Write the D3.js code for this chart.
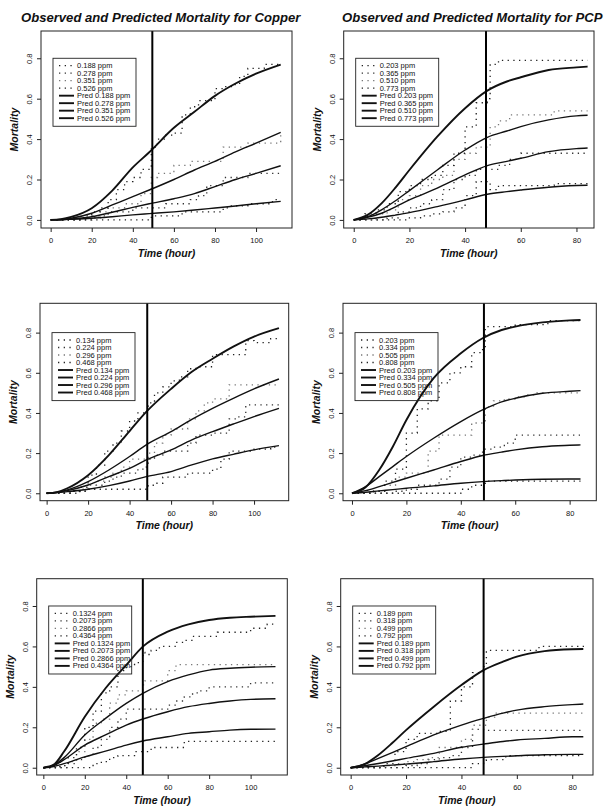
<!DOCTYPE html>
<html>
<head>
<meta charset="utf-8">
<script src="https://cdn.jsdelivr.net/npm/d3@7"></script>
<style>
body { margin: 0; background: #fff; }
svg { display: block; }
text { font-family: "Liberation Sans", Arial, sans-serif; fill: #111; }
</style>
</head>
<body>
<svg id="chart" width="606" height="809"></svg>
<script>
// time grids (hours)
var obsTimeL = [0,4,8,12,16,20,24,28,32,36,40,44,48,49,52,56,60,64,68,72,76,80,84,88,92,96,100,104,108,112]
var obsTimeR = [0,4,8,12,16,20,24,28,32,36,40,44,48,49,52,56,60,64,68,72,76,80,84]
var predTimeL = [0,5,10,20,30,40,48,60,70,80,90,100,112]
var predTimeR = [0,5,10,15,20,30,40,48,55,60,70,80,84]

var titles = ["Observed and Predicted Mortality for Copper", "Observed and Predicted Mortality for PCP"]
var xTicksL = [0,20,40,60,80,100]
var xTicksR = [0,20,40,60,80]
var yTicks = [0,0.2,0.4,0.6,0.8]

// copper, run 1
var cu1Conc = ["0.188","0.278","0.351","0.526"]
var cu1Obs = [
  [0,0,0,0,0,0,0,0,0,0,0,0,0,0.02,0.02,0.02,0.02,0.04,0.04,0.04,0.04,0.04,0.06,0.07,0.07,0.08,0.08,0.08,0.1,0.1],
  [0,0,0,0,0,0.01,0.02,0.04,0.04,0.04,0.06,0.06,0.06,0.06,0.06,0.08,0.08,0.08,0.1,0.12,0.17,0.17,0.21,0.21,0.21,0.23,0.23,0.23,0.23,0.23],
  [0,0,0,0,0.01,0.02,0.04,0.06,0.06,0.08,0.08,0.13,0.13,0.21,0.23,0.23,0.27,0.27,0.29,0.29,0.29,0.29,0.36,0.36,0.36,0.38,0.38,0.38,0.38,0.43],
  [0,0,0,0,0.02,0.04,0.06,0.1,0.15,0.19,0.21,0.25,0.25,0.36,0.4,0.42,0.43,0.52,0.56,0.59,0.59,0.65,0.66,0.67,0.71,0.75,0.75,0.77,0.77,0.77]
]
var cu1Pred = [
  [0,0.001,0.003,0.008,0.016,0.025,0.031,0.04,0.049,0.059,0.069,0.08,0.092],
  [0,0.001,0.005,0.016,0.038,0.062,0.08,0.105,0.13,0.165,0.2,0.23,0.268],
  [0,0.002,0.008,0.033,0.074,0.115,0.148,0.2,0.247,0.29,0.337,0.38,0.433],
  [0,0.004,0.015,0.058,0.145,0.26,0.335,0.456,0.535,0.614,0.675,0.724,0.769]
]

// PCP, run 1
var pcp1Conc = ["0.203","0.365","0.510","0.773"]
var pcp1Obs = [
  [0,0,0,0,0,0.01,0.02,0.03,0.04,0.06,0.12,0.19,0.19,0.15,0.17,0.17,0.17,0.17,0.17,0.18,0.18,0.18,0.18],
  [0,0,0,0.01,0.04,0.06,0.08,0.1,0.15,0.2,0.22,0.25,0.25,0.25,0.27,0.3,0.33,0.33,0.33,0.33,0.33,0.33,0.33],
  [0,0,0.03,0.05,0.1,0.12,0.17,0.2,0.22,0.3,0.33,0.36,0.36,0.46,0.49,0.52,0.52,0.52,0.52,0.54,0.54,0.54,0.54],
  [0,0.03,0.05,0.08,0.14,0.17,0.2,0.22,0.27,0.33,0.46,0.58,0.6,0.77,0.79,0.79,0.79,0.79,0.79,0.79,0.79,0.79,0.79]
]
var pcp1Pred = [
  [0,0.005,0.013,0.024,0.036,0.066,0.099,0.127,0.14,0.148,0.162,0.17,0.172],
  [0,0.013,0.033,0.065,0.099,0.157,0.223,0.269,0.29,0.305,0.338,0.353,0.356],
  [0,0.016,0.05,0.095,0.145,0.247,0.346,0.409,0.44,0.462,0.495,0.515,0.518],
  [0,0.025,0.082,0.16,0.247,0.412,0.553,0.64,0.685,0.706,0.742,0.755,0.759]
]

// copper, run 2
var cu2Conc = ["0.134","0.224","0.296","0.468"]
var cu2Obs = [
  [0,0,0,0.01,0.01,0.02,0.02,0.02,0.02,0.02,0.02,0.02,0.02,0.04,0.05,0.08,0.08,0.08,0.1,0.1,0.1,0.12,0.17,0.21,0.21,0.21,0.22,0.22,0.23,0.23],
  [0,0,0,0,0.01,0.02,0.04,0.06,0.08,0.1,0.1,0.12,0.13,0.17,0.19,0.21,0.21,0.21,0.25,0.29,0.29,0.3,0.3,0.37,0.38,0.44,0.44,0.44,0.44,0.44],
  [0,0,0,0.01,0.02,0.04,0.06,0.08,0.1,0.13,0.17,0.17,0.17,0.2,0.25,0.29,0.32,0.32,0.37,0.41,0.45,0.47,0.47,0.54,0.54,0.54,0.54,0.54,0.54,0.54],
  [0,0,0,0.01,0.03,0.09,0.14,0.21,0.25,0.31,0.36,0.4,0.41,0.45,0.5,0.53,0.56,0.58,0.62,0.63,0.63,0.69,0.69,0.69,0.69,0.76,0.75,0.75,0.77,0.77]
]
var cu2Pred = [
  [0,0.003,0.008,0.02,0.038,0.061,0.083,0.108,0.141,0.171,0.194,0.216,0.237],
  [0,0.004,0.013,0.041,0.083,0.124,0.166,0.216,0.266,0.307,0.345,0.382,0.423],
  [0,0.005,0.017,0.058,0.116,0.183,0.241,0.307,0.368,0.423,0.473,0.52,0.569],
  [0,0.006,0.025,0.09,0.19,0.31,0.405,0.52,0.605,0.67,0.73,0.78,0.822]
]

// PCP, run 2
var pcp2Conc = ["0.203","0.334","0.505","0.808"]
var pcp2Obs = [
  [0,0,0,0,0,0,0,0,0,0,0.02,0.04,0.05,0.06,0.06,0.06,0.06,0.06,0.06,0.06,0.06,0.06,0.06],
  [0,0,0,0,0.01,0.02,0.04,0.04,0.07,0.13,0.18,0.19,0.22,0.22,0.23,0.25,0.29,0.29,0.29,0.29,0.29,0.29,0.29],
  [0,0,0.01,0.04,0.08,0.1,0.1,0.21,0.29,0.29,0.29,0.35,0.35,0.43,0.46,0.47,0.48,0.49,0.5,0.5,0.5,0.5,0.5],
  [0,0,0.01,0.06,0.12,0.3,0.42,0.46,0.55,0.6,0.63,0.7,0.73,0.83,0.83,0.83,0.84,0.84,0.84,0.86,0.86,0.86,0.86]
]
var pcp2Pred = [
  [0,0.005,0.012,0.018,0.025,0.037,0.05,0.058,0.063,0.066,0.07,0.071,0.071],
  [0,0.013,0.033,0.054,0.075,0.116,0.158,0.188,0.205,0.216,0.232,0.239,0.241],
  [0,0.033,0.083,0.133,0.183,0.274,0.357,0.415,0.455,0.473,0.498,0.508,0.511],
  [0,0.03,0.116,0.232,0.365,0.573,0.697,0.772,0.813,0.83,0.851,0.861,0.863]
]

// copper, run 3
var cu3Conc = ["0.1324","0.2073","0.2866","0.4364"]
var cu3Obs = [
  [0,0,0,0,0,0,0.02,0.03,0.05,0.06,0.06,0.08,0.08,0.08,0.1,0.1,0.1,0.1,0.13,0.13,0.13,0.13,0.13,0.13,0.13,0.13,0.13,0.13,0.13,0.13],
  [0,0,0,0.02,0.04,0.06,0.1,0.14,0.2,0.24,0.29,0.29,0.29,0.29,0.29,0.29,0.31,0.33,0.35,0.37,0.38,0.4,0.4,0.4,0.4,0.4,0.42,0.42,0.42,0.42],
  [0,0,0.01,0.03,0.08,0.14,0.22,0.24,0.32,0.36,0.38,0.38,0.41,0.43,0.43,0.43,0.48,0.51,0.51,0.51,0.51,0.51,0.51,0.51,0.51,0.51,0.51,0.51,0.51,0.51],
  [0,0,0.01,0.05,0.1,0.2,0.28,0.37,0.4,0.48,0.5,0.52,0.57,0.56,0.58,0.6,0.6,0.62,0.63,0.65,0.65,0.65,0.67,0.67,0.67,0.67,0.69,0.69,0.71,0.71]
]
var cu3Pred = [
  [0,0.006,0.02,0.054,0.082,0.112,0.132,0.153,0.17,0.178,0.186,0.19,0.191],
  [0,0.01,0.04,0.112,0.162,0.211,0.241,0.277,0.302,0.318,0.33,0.338,0.341],
  [0,0.012,0.05,0.162,0.244,0.318,0.368,0.426,0.459,0.483,0.492,0.497,0.5],
  [0,0.015,0.08,0.252,0.393,0.508,0.599,0.673,0.709,0.731,0.742,0.747,0.751]
]

// PCP, run 3
var pcp3Conc = ["0.189","0.318","0.499","0.792"]
var pcp3Obs = [
  [0,0,0,0,0,0,0,0,0,0,0,0.02,0.03,0.04,0.04,0.06,0.06,0.06,0.06,0.06,0.06,0.06,0.06],
  [0,0,0,0,0,0.01,0.02,0.04,0.05,0.06,0.1,0.19,0.185,0.185,0.185,0.185,0.185,0.185,0.185,0.185,0.185,0.185,0.185],
  [0,0,0,0.01,0.02,0.03,0.04,0.05,0.1,0.1,0.14,0.21,0.21,0.25,0.27,0.27,0.27,0.27,0.27,0.27,0.27,0.27,0.27],
  [0,0,0,0.02,0.08,0.14,0.17,0.17,0.18,0.33,0.4,0.47,0.5,0.58,0.58,0.58,0.58,0.58,0.6,0.6,0.6,0.6,0.62]
]
var pcp3Pred = [
  [0,0.004,0.008,0.013,0.018,0.03,0.043,0.051,0.056,0.059,0.064,0.066,0.066],
  [0,0.01,0.021,0.033,0.046,0.071,0.101,0.117,0.13,0.137,0.145,0.153,0.153],
  [0,0.018,0.046,0.075,0.104,0.162,0.211,0.244,0.27,0.285,0.302,0.312,0.315],
  [0,0.018,0.063,0.122,0.186,0.302,0.409,0.483,0.525,0.55,0.577,0.586,0.587]
]

// vertical reference line (hours) per panel
var cutTimes = [49.5, 47.5, 48.5, 48.5, 48, 48]

// layout: plot box [left, right, top, bottom] and scale domains
var panels = [
  {conc: cu1Conc,  obs: cu1Obs,  pred: cu1Pred,  ot: obsTimeL, pt: predTimeL, xt: xTicksL, title: titles[0], tx: 21,
   box: [41, 292, 31, 228],      xdom: [-4.7, 117.5], ydom: [-0.04, 0.935]},
  {conc: pcp1Conc, obs: pcp1Obs, pred: pcp1Pred, ot: obsTimeR, pt: predTimeR, xt: xTicksR, title: titles[1], tx: 342,
   box: [343.7, 594, 31, 228],   xdom: [-3.6, 86.3],  ydom: [-0.04, 0.935]},
  {conc: cu2Conc,  obs: cu2Obs,  pred: cu2Pred,  ot: obsTimeL, pt: predTimeL, xt: xTicksL,
   box: [40, 288.7, 303.3, 500.7], xdom: [-3.2, 116.7], ydom: [-0.037, 0.946]},
  {conc: pcp2Conc, obs: pcp2Obs, pred: pcp2Pred, ot: obsTimeR, pt: predTimeR, xt: xTicksR,
   box: [343, 596.3, 303.3, 500.7], xdom: [-3.3, 89.8], ydom: [-0.037, 0.946]},
  {conc: cu3Conc,  obs: cu3Obs,  pred: cu3Pred,  ot: obsTimeL, pt: predTimeL, xt: xTicksL,
   box: [36.7, 287.3, 578.7, 775], xdom: [-3.2, 117.7], ydom: [-0.036, 0.935]},
  {conc: pcp3Conc, obs: pcp3Obs, pred: pcp3Pred, ot: obsTimeR, pt: predTimeR, xt: xTicksR,
   box: [340.7, 593, 578.7, 775], xdom: [-3.6, 87.5], ydom: [-0.036, 0.935]}
]

var obsColor = ["#222", "#333", "#777", "#222"]
var dots = "1.3,4.4"

var svg = d3.select("#chart")

panels.forEach(function(p, pi) {
    var b = p.box
    var x = d3.scaleLinear().domain(p.xdom).range([b[0], b[1]])
    var y = d3.scaleLinear().domain(p.ydom).range([b[3], b[2]])
    var g = svg.append("g")

    // axes
    var xa = g.append("g").attr("transform", "translate(0," + b[3] + ")")
        .call(d3.axisBottom(x).tickValues(p.xt).tickSize(4).tickPadding(6).tickFormat(d3.format("d")))
    var ya = g.append("g").attr("transform", "translate(" + b[0] + ",0)")
        .call(d3.axisLeft(y).tickValues(yTicks).tickSize(4).tickFormat(d3.format(".1f")))
    ;[xa, ya].forEach(function(a) {
        a.select(".domain").remove()
        a.selectAll(".tick line").attr("stroke", "#222")
        a.selectAll(".tick text").style("font-size", "7.5px").attr("fill", "#111")
            .style("font-family", "'Liberation Sans', Arial, sans-serif")
    })
    ya.selectAll(".tick text")
        .attr("transform", "rotate(-90)")
        .attr("x", 0).attr("y", -8.6).attr("dy", 0)
        .attr("text-anchor", "middle")

    // observed, dotted steps
    var obsLine = d3.line()
        .x(function(d, i) { return x(p.ot[i]) })
        .y(function(d) { return y(d) })
        .curve(d3.curveStepAfter)
    p.obs.forEach(function(s, si) {
        g.append("path").attr("d", obsLine(s))
            .attr("fill", "none").attr("stroke", obsColor[si])
            .attr("stroke-width", 1.3).attr("stroke-dasharray", dots)
    })

    // predicted, smooth
    var predLine = d3.line()
        .x(function(d, i) { return x(p.pt[i]) })
        .y(function(d) { return y(d) })
        .curve(d3.curveMonotoneX)
    p.pred.forEach(function(s, si) {
        g.append("path").attr("d", predLine(s))
            .attr("fill", "none").attr("stroke", "#111")
            .attr("stroke-width", si == 3 ? 1.9 : 1.4)
    })

    // reference line
    g.append("line")
        .attr("x1", x(cutTimes[pi])).attr("x2", x(cutTimes[pi]))
        .attr("y1", b[2]).attr("y2", b[3])
        .attr("stroke", "#000").attr("stroke-width", 2)

    // box
    g.append("rect")
        .attr("x", b[0]).attr("y", b[2])
        .attr("width", b[1] - b[0]).attr("height", b[3] - b[2])
        .attr("fill", "none").attr("stroke", "#222").attr("stroke-width", 1)

    // legend
    var lx = b[0] + 12, ly = y(0.8)
    var lg = g.append("g").attr("transform", "translate(" + lx + "," + ly + ")")
    lg.append("rect").attr("width", 83).attr("height", 68)
        .attr("fill", "none").attr("stroke", "#222").attr("stroke-width", 0.9)
    var rows = p.conc.map(function(c, i) { return {label: c + " ppm", obs: true, i: i} })
        .concat(p.conc.map(function(c, i) { return {label: "Pred " + c + " ppm", obs: false, i: i} }))
    rows.forEach(function(r, k) {
        var ry = 7.4 + k * 7.5
        lg.append("line").attr("x1", 6).attr("x2", 21).attr("y1", ry).attr("y2", ry)
            .attr("stroke", r.obs ? obsColor[r.i] : "#111")
            .attr("stroke-width", r.obs ? 1.3 : 1.9)
            .attr("stroke-dasharray", r.obs ? dots : null)
        lg.append("text").attr("x", 24).attr("y", ry + 2.6)
            .style("font-size", "7.5px").text(r.label)
    })

    // axis titles
    g.append("text")
        .attr("x", (b[0] + b[1]) / 2).attr("y", b[3] + 28.5)
        .attr("text-anchor", "middle")
        .style("font-size", "10.5px").style("font-weight", "bold").style("font-style", "italic")
        .text("Time (hour)")
    g.append("text")
        .attr("transform", "translate(" + (b[0] - 23) + "," + ((b[2] + b[3]) / 2) + ") rotate(-90)")
        .attr("text-anchor", "middle")
        .style("font-size", "10.5px").style("font-weight", "bold").style("font-style", "italic")
        .text("Mortality")

    if (p.title) {
        g.append("text")
            .attr("x", p.tx).attr("y", 21.7)
            .style("font-size", "13.1px").style("font-weight", "bold").style("font-style", "italic")
            .text(p.title)
    }
})
</script>
</body>
</html>
